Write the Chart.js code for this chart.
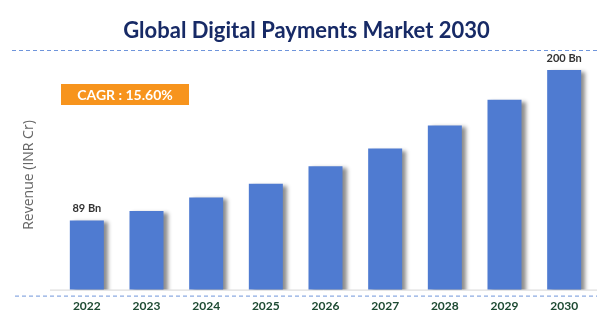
<!DOCTYPE html>
<html>
<head>
<meta charset="utf-8">
<script src="https://cdn.jsdelivr.net/npm/chart.js@4.4.1/dist/chart.umd.min.js"></script>
<style>
    html, body { margin: 0; padding: 0; background: #ffffff; }
    #market-chart { display: block; }
</style>
</head>
<body>
<canvas id="market-chart" width="602" height="327"></canvas>
<script>
    "use strict";

    // Market size by year (Bn)
    const years = ["2022", "2023", "2024", "2025", "2026", "2027", "2028", "2029", "2030"];
    const revenue = [89, 96, 106, 116, 129, 142, 159, 178, 200];
    const valueLabels = ["89 Bn", "", "", "", "", "", "", "", "200 Bn"];
    const cagrText = "CAGR : 15.60%";

    const fontFamily = "Lato, 'Open Sans', sans-serif";

    // Bar shadow
    const barShadow = {
        id: "barShadow",
        beforeDatasetsDraw: function (chart) {
            const ctx = chart.ctx;
            ctx.save();
            ctx.shadowColor = "rgba(0, 0, 0, 0.45)";
            ctx.shadowBlur = 4;
            ctx.shadowOffsetX = 4;
            ctx.shadowOffsetY = 2;
        },
        afterDatasetsDraw: function (chart) {
            chart.ctx.restore();
        }
    };

    // Dashed rules, base line, CAGR badge and value labels
    const decorations = {
        id: "decorations",
        beforeDraw: function (chart) {
            const ctx = chart.ctx;
            const area = chart.chartArea;
            ctx.save();
            ctx.strokeStyle = "#6f95db";
            ctx.lineWidth = 1;
            ctx.setLineDash([4, 3]);
            ctx.beginPath();
            ctx.moveTo(12, 50.5);
            ctx.lineTo(597, 50.5);
            ctx.moveTo(15, area.bottom + 6.5);
            ctx.lineTo(597, area.bottom + 6.5);
            ctx.stroke();
            ctx.setLineDash([]);
            ctx.strokeStyle = "#d6d6d6";
            ctx.beginPath();
            ctx.moveTo(50, area.bottom + 0.5);
            ctx.lineTo(597, area.bottom + 0.5);
            ctx.stroke();
            ctx.restore();
        },
        afterDraw: function (chart) {
            const ctx = chart.ctx;
            ctx.save();
            // CAGR badge
            ctx.fillStyle = "#f7941d";
            ctx.fillRect(61, 84, 128, 21);
            ctx.fillStyle = "#ffffff";
            ctx.font = "bold 14px " + fontFamily;
            ctx.textAlign = "center";
            ctx.textBaseline = "middle";
            ctx.fillText(cagrText, 125, 95);

            // value labels above bars
            const meta = chart.getDatasetMeta(0);
            ctx.fillStyle = "#333333";
            ctx.font = "bold 11px " + fontFamily;
            ctx.textBaseline = "bottom";
            meta.data.forEach(function (bar, i) {
                if (valueLabels[i]) {
                    ctx.fillText(valueLabels[i], bar.x, bar.y - 6);
                }
            });
            ctx.restore();
        }
    };

    const ctx = document.getElementById("market-chart").getContext("2d");
    const marketChart = new Chart(ctx, {
        type: "bar",
        data: {
            labels: years,
            datasets: [{
                label: "Revenue",
                data: revenue,
                backgroundColor: "#4f7bd1",
                borderWidth: 0,
                barPercentage: 0.57,
                categoryPercentage: 1
            }]
        },
        options: {
            responsive: false,
            animation: false,
            layout: {
                padding: { left: 19, right: 8, top: 0, bottom: 5 }
            },
            plugins: {
                legend: { display: false },
                tooltip: { enabled: false },
                title: {
                    display: true,
                    text: "Global Digital Payments Market 2030",
                    color: "#172a66",
                    font: { family: fontFamily, size: 22, weight: "bold" },
                    padding: { top: 18, bottom: 16 }
                }
            },
            scales: {
                x: {
                    grid: { display: false, drawTicks: false },
                    border: { display: false },
                    ticks: {
                        color: "#1d4a32",
                        padding: 9,
                        font: { family: fontFamily, size: 12, weight: "bold" }
                    }
                },
                y: {
                    min: 38,
                    max: 207,
                    grid: { display: false, drawTicks: false },
                    border: { display: false },
                    ticks: { display: false },
                    afterFit: function (scale) {
                        scale.width = 38;
                    },
                    title: {
                        display: true,
                        text: "Revenue (INR Cr)",
                        color: "#666666",
                        font: { family: "'Open Sans', sans-serif", size: 14 },
                        padding: { top: 2, bottom: 4 }
                    }
                }
            }
        },
        plugins: [barShadow, decorations]
    });
</script>
</body>
</html>
